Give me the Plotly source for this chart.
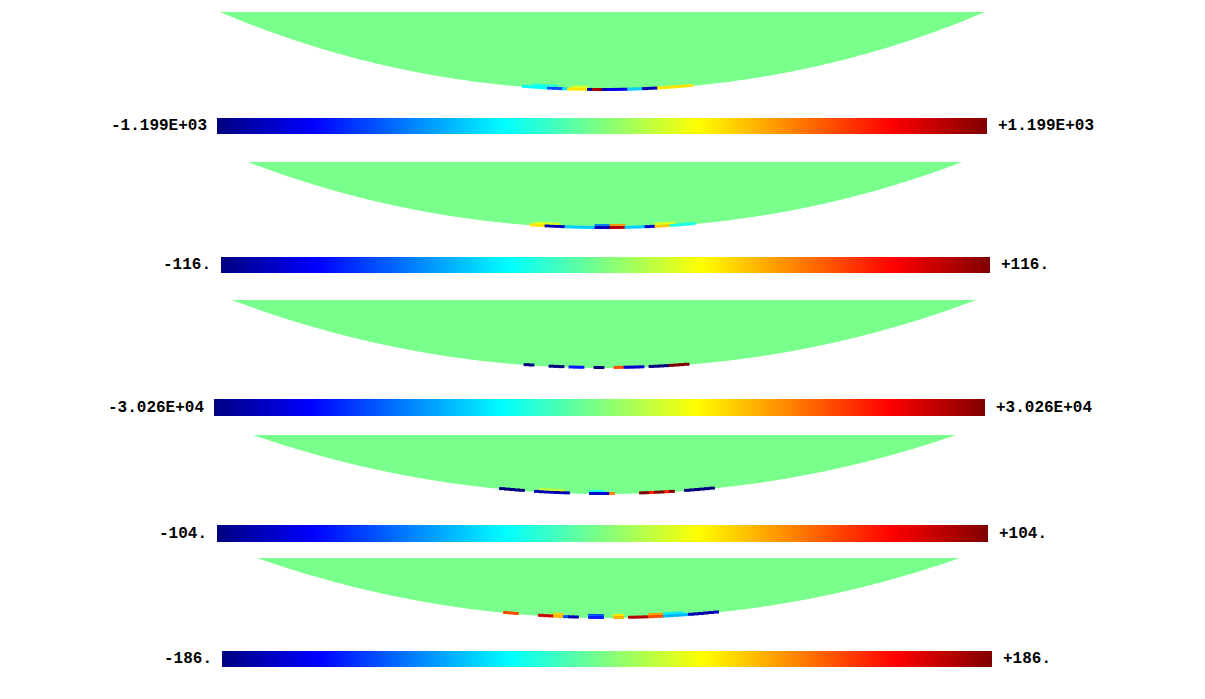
import numpy as np
import plotly.graph_objects as go

# fringe range of each plot (+/- value shown at both ends of the bar)
scale_max = [1199, 116, 30260, 104, 186]
label_lo = ["-1.199E+03", "-116.", "-3.026E+04", "-104.", "-186."]
label_hi = ["+1.199E+03", "+116.", "+3.026E+04", "+104.", "+186."]

# element values along the bottom edge of the model, as a fraction of the range
# 44 elements per row, centre of the model in the middle, outer row then inner row
edge1 = [0, 0, 0, 0, 0, 0, -0.25, -0.25, -0.25, -0.25, -0.25, -0.6, -0.6, -0.6, -0.3, 0.3, 0.3, 0.3, 0.3, -0.9, 0.9,
         0.95, -0.9, -0.8, -0.8, -0.8, -0.8, -0.35, -0.35, -0.35, -0.9, -0.9, -0.9, 0.3, 0.3, 0.3, 0.3, 0.3, 0.3, 0.3,
         0, 0, 0, 0]
inner1 = [0, 0, 0, 0, 0, 0, 0, 0, -0.2, -0.2, -0.2, -0.2, -0.2, 0, 0, 0, 0.2, 0.2, 0.2, 0, 0, 0, 0, 0, 0, 0, 0, 0,
          0, 0, 0, 0, 0, 0, 0, 0, 0, 0, 0, 0, 0, 0, 0, 0]
edge2 = [0, 0, 0, 0, 0, 0, 0, 0.3, 0.3, 0.3, -0.9, -0.9, -0.9, -0.9, -0.35, -0.35, -0.35, -0.35, -0.35, -0.35, -0.9,
         -0.9, -0.9, 0.9, 0.9, 0.9, -0.35, -0.35, -0.35, -0.35, -0.85, -0.85, 0.35, 0.35, 0.35, -0.2, -0.2, -0.2,
         -0.2, -0.2, 0, 0, 0, 0]
inner2 = [0, 0, 0, 0, 0, 0, 0, 0, 0.2, 0.2, 0.2, 0.2, 0.2, 0, 0, 0, 0, 0, 0, 0, -0.5, -0.5, -0.5, 0.45, 0.45, 0.45,
          0, 0, 0, 0, 0, 0, 0.2, 0.2, 0.2, 0.2, 0, 0, 0, 0, 0, 0, 0, 0]
edge3 = [0, 0, 0, 0, 0, 0, -1, -1, 0, 0, 0, -1, -1, -1, 0, -0.7, -0.7, -0.7, 0, 0, -1, -1, 0, 0, 0.6, 0.6, -0.85,
         -0.85, -0.85, -0.85, 0, -1, -1, -1, -1, 1, 1, 1, 1, 0, 0, 0, 0, 0]
inner3 = [0] * 44
edge4 = [0, -1, -1, -1, -1, -1, 0, 0, -0.9, -0.9, -0.9, -0.9, -0.9, -0.9, -0.9, 0, 0, 0, 0, -0.85, -0.85, -0.85,
         -0.85, 0.5, 0, 0, 0, 0, 0, 1, 1, 0.7, 1, 1, 0.7, 1, 0, 0, -1, -1, -1, -1, -1, -1]
inner4 = [0, 0, 0, 0, 0, 0, 0, 0, 0, 0.15, 0.15, 0.15, 0.15, 0.15, 0, 0, 0, 0, 0, -0.2, -0.2, -0.2, 0, 0, 0, 0, 0,
          0, 0, 0, 0, 0, 0, 0, 0, 0, 0, 0, 0, 0, 0, 0, 0, 0]
edge5 = [0, 0.6, 0.6, 0.6, 0, 0, 0, 0, 0.85, 0.85, 0.85, 0.4, 0.4, -0.6, -0.9, -0.9, 0, 0, -0.7, -0.7, -0.7, 0, 0,
         0.4, 0.4, 0, 0.9, 0.9, 0.9, 0.9, 0.6, 0.6, 0.6, -0.4, -0.4, -0.4, -0.4, -0.4, -0.9, -0.9, -0.9, -0.9, -0.9,
         -0.9]
inner5 = [0, 0, 0, 0, 0, 0, 0, 0, 0, 0, 0, 0.35, 0.35, 0, 0, 0, 0, 0, -0.6, -0.6, -0.6, 0, 0, 0.3, 0.3, 0, 0, 0, 0,
          0, 0.45, 0.45, 0.45, -0.3, -0.3, -0.3, -0.3, 0, 0, 0, 0, 0, 0, 0]

edges = [edge1, edge2, edge3, edge4, edge5]
inners = [inner1, inner2, inner3, inner4, inner5]

W, H = 1205, 699
PAD = 8  # page body margin the plot div sits inside
# where each viewport sits on the page: model top, left, right, bottom / bar left, right, top, bottom
lens_box = [(12, 220, 985, 90), (162, 248, 962, 228), (300, 232, 976, 368), (435, 253, 956, 494), (558, 257, 960, 618)]
bar_box = [(217, 987, 118, 134), (221, 990, 257, 273), (214, 985, 399, 416), (217, 988, 525, 542), (222, 992, 651, 667)]
cell = 5
green = "rgb(120,255,140)"

jet = [[0, "rgb(0,0,128)"], [0.125, "rgb(0,0,255)"], [0.375, "rgb(0,255,255)"],
       [0.625, "rgb(255,255,0)"], [0.875, "rgb(255,0,0)"], [1, "rgb(128,0,0)"]]

fig = go.Figure()
layout_extra = {}

for i in range(5):
    top, left, right, bottom = lens_box[i]
    cx = (left + right) / 2
    half = (right - left) / 2
    sag = bottom - top
    R = (half ** 2 + sag ** 2) / (2 * sag)
    cy = bottom - R

    def arc_y(x):
        return cy + np.sqrt(np.maximum(R ** 2 - (x - cx) ** 2, 0))

    # the model outline goes under the element bars
    xs = np.linspace(left, right, 400)
    ys = arc_y(xs)
    path = "M " + " L ".join("%.2f,%.2f" % (a, b) for a, b in zip(xs, ys)) + " Z"
    fig.add_shape(type="path", path=path, xref="x", yref="y", fillcolor=green,
                  line=dict(width=0), layer="below")

    ca = "coloraxis" if i == 0 else "coloraxis%d" % (i + 1)
    m = scale_max[i]
    for row, vals in enumerate([edges[i], inners[i]]):
        bx, bb, bc = [], [], []
        for k, v in enumerate(vals):
            if v == 0:
                continue
            x = cx - 110 + cell * k + cell / 2
            bx.append(x)
            bb.append(float(arc_y(x)) - 2 - 2 * row)
            bc.append(v * m)
        if not bx:
            continue
        fig.add_trace(go.Bar(x=bx, y=[3 if row == 0 else 2] * len(bx), base=bb, width=cell + 0.8,
                             marker=dict(color=bc, coloraxis=ca, line=dict(width=0)), hoverinfo="skip"))

    x0, x1, y0, y1 = bar_box[i]
    layout_extra[ca] = dict(
        colorscale=jet, cmin=-m, cmax=m,
        colorbar=dict(orientation="h", x=(x0 - PAD) / W, xanchor="left", y=1 - (y0 - PAD) / H, yanchor="top",
                      len=x1 - x0, lenmode="pixels", thickness=y1 - y0, thicknessmode="pixels",
                      xpad=0, ypad=0, outlinewidth=0, showticklabels=False, ticks=""))

    fig.add_annotation(x=x0 - 8, y=(y0 + y1) / 2, text=label_lo[i], showarrow=False, xanchor="right",
                       font=dict(family="Liberation Mono", size=16, color="black", weight="bold"))
    fig.add_annotation(x=x1 + 9, y=(y0 + y1) / 2, text=label_hi[i], showarrow=False, xanchor="left",
                       font=dict(family="Liberation Mono", size=16, color="black", weight="bold"))

fig.update_layout(
    width=W, height=H, margin=dict(l=0, r=0, t=0, b=0),
    paper_bgcolor="white", plot_bgcolor="white", showlegend=False, barmode="overlay",
    xaxis=dict(range=[PAD, W + PAD], visible=False, fixedrange=True),
    yaxis=dict(range=[H + PAD, PAD], visible=False, fixedrange=True),
    **layout_extra
)

fig.write_html("out.html")
